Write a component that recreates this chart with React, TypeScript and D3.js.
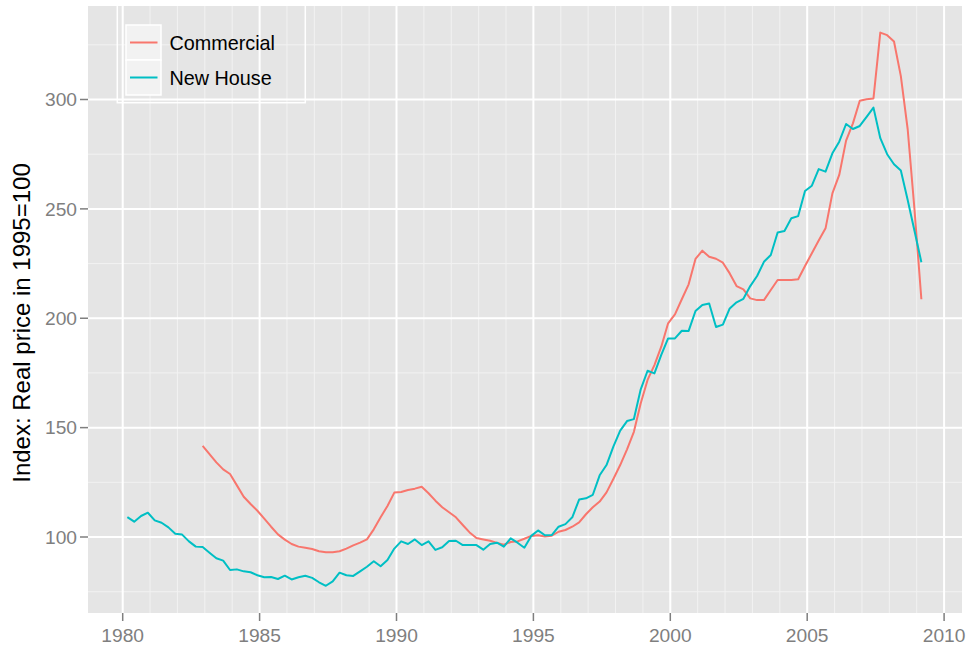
import * as d3 from 'd3';

// quarterly series, first point is early 1980
const firstDate = 1980.17;
const commercialStart = 11; // commercial index begins 11 quarters later

const newHouse = [
  109.1, 107.0, 109.6, 111.1, 107.6, 106.5, 104.4, 101.5, 101.1, 98.0,
  95.6, 95.4, 92.8, 90.3, 89.2, 84.9, 85.2, 84.3, 83.9, 82.5,
  81.6, 81.7, 80.8, 82.3, 80.6, 81.6, 82.3, 81.3, 79.3, 77.7,
  79.7, 83.7, 82.5, 82.2, 84.3, 86.4, 88.9, 86.6, 89.5, 94.7,
  98.0, 96.8, 98.9, 96.3, 98.0, 94.1, 95.3, 98.2, 98.3, 96.3,
  96.3, 96.3, 94.2, 96.8, 97.4, 95.6, 99.4, 97.4, 95.1, 100.5,
  103.0, 100.8, 100.9, 104.7, 105.9, 109.0, 117.1, 117.7, 119.3, 128.2,
  132.9, 141.3, 148.6, 153.0, 153.9, 167.5, 176.0, 174.8, 183.3, 190.8,
  190.8, 194.3, 194.2, 203.3, 206.1, 206.7, 196.0, 197.1, 204.5, 207.3,
  208.9, 214.7, 219.3, 225.8, 228.9, 239.2, 239.9, 245.7, 246.7, 258.2,
  260.6, 268.2, 267.0, 275.4, 280.7, 288.8, 286.5, 287.9, 292.1, 296.3,
  282.3, 275.0, 270.4, 267.5, 254.1, 239.9, 225.6,
];

const commercial = [
  141.7, 137.9, 134.1, 130.9, 128.8, 123.6, 118.4, 115.1, 112.0,
  108.4, 104.7, 101.2, 98.8, 96.8, 95.6, 95.1, 94.5, 93.5, 93.0,
  93.0, 93.5, 94.7, 96.2, 97.4, 98.9, 103.5, 109.0, 114.2, 120.3,
  120.6, 121.5, 122.1, 123.0, 120.0, 116.6, 113.6, 111.3, 109.0, 105.5,
  102.1, 99.5, 98.9, 98.3, 97.3, 96.5, 97.7, 98.0, 99.2, 100.5,
  100.8, 100.2, 100.6, 102.4, 103.2, 104.7, 106.7, 110.4, 113.6, 116.2,
  120.4, 126.5, 132.9, 140.1, 148.1, 161.1, 171.8, 178.6, 187.0, 197.7,
  201.8, 208.7, 215.5, 227.1, 230.9, 228.1, 227.2, 225.4, 220.5, 214.7,
  213.2, 209.1, 208.3, 208.3, 212.9, 217.5, 217.5, 217.5, 217.8, 223.9,
  229.7, 235.5, 241.1, 257.1, 265.5, 281.2, 289.1, 299.4, 300.1, 300.5,
  330.6, 329.4, 326.5, 310.7, 286.4, 249.5, 208.7,
];

const xTicks = [1980, 1985, 1990, 1995, 2000, 2005, 2010];
const xMinor = d3.range(1980, 2011);
const yTicks = [100, 150, 200, 250, 300];
const yMinor = [75, 125, 175, 225, 275, 325];

const seriesNames = ['Commercial', 'New House'];
const seriesColors = ['#F8766D', '#00BFC4'];

const W = 968;
const H = 646;
const panel = { left: 88, right: 962, top: 6, bottom: 613 };
const font = '"Liberation Sans", Arial, Helvetica, sans-serif';

export default function App() {
  const x = d3.scaleLinear().domain([1980, 2010]).range([122.7, 944.1]);
  const y = d3.scaleLinear().domain([100, 300]).range([537, 99.5]);

  const nhData = newHouse.map((v, i) => ({ t: firstDate + i / 4, v }));
  const comData = commercial.map((v, i) => ({ t: firstDate + (i + commercialStart) / 4, v }));

  const line = d3
    .line<{ t: number; v: number }>()
    .x(d => x(d.t))
    .y(d => y(d.v));

  const pw = panel.right - panel.left;
  const ph = panel.bottom - panel.top;

  return (
    <svg width={W} height={H} style={{ position: 'absolute', left: 0, top: 0, background: '#fff' }}>
      <defs>
        <clipPath id="panel-clip">
          <rect x={panel.left} y={panel.top} width={pw} height={ph} />
        </clipPath>
      </defs>
      <rect x={panel.left} y={panel.top} width={pw} height={ph} fill="#E5E5E5" />
      <g clipPath="url(#panel-clip)">
        {xMinor.map(d => (
          <line key={'xm' + d} x1={x(d)} x2={x(d)} y1={panel.top} y2={panel.bottom} stroke="#F2F2F2" strokeWidth={1} />
        ))}
        {yMinor.map(d => (
          <line key={'ym' + d} x1={panel.left} x2={panel.right} y1={y(d)} y2={y(d)} stroke="#F2F2F2" strokeWidth={1} />
        ))}
        {xTicks.map(d => (
          <line key={'xM' + d} x1={x(d)} x2={x(d)} y1={panel.top} y2={panel.bottom} stroke="#fff" strokeWidth={2} />
        ))}
        {yTicks.map(d => (
          <line key={'yM' + d} x1={panel.left} x2={panel.right} y1={y(d)} y2={y(d)} stroke="#fff" strokeWidth={2} />
        ))}

        <path d={line(comData) || ''} fill="none" stroke={seriesColors[0]} strokeWidth={2} strokeLinejoin="round" />
        <path d={line(nhData) || ''} fill="none" stroke={seriesColors[1]} strokeWidth={2} strokeLinejoin="round" />

        {/* legend */}
        <rect x={117.3} y={2} width={188} height={100.7} fill="none" stroke="#fff" strokeWidth={1.5} />
        {seriesNames.map((name, i) => {
          const top = 25 + i * 35;
          return (
            <g key={name}>
              <rect x={126} y={top} width={35} height={35} fill="#F2F2F2" stroke="#fff" strokeWidth={1.5} />
              <line x1={130} x2={157.5} y1={top + 17.5} y2={top + 17.5} stroke={seriesColors[i]} strokeWidth={2} />
              <text x={169.5} y={top + 24.8} fontFamily={font} fontSize={19.8} fill="#000">
                {name}
              </text>
            </g>
          );
        })}
      </g>

      {/* axes */}
      {xTicks.map(d => (
        <g key={'xt' + d}>
          <line x1={x(d)} x2={x(d)} y1={panel.bottom} y2={panel.bottom + 8} stroke="#7F7F7F" strokeWidth={1.5} />
          <text x={x(d)} y={642} textAnchor="middle" fontFamily={font} fontSize={19.2} fill="#7F7F7F">
            {d}
          </text>
        </g>
      ))}
      {yTicks.map(d => (
        <g key={'yt' + d}>
          <line x1={panel.left - 8} x2={panel.left} y1={y(d)} y2={y(d)} stroke="#7F7F7F" strokeWidth={1.5} />
          <text x={77} y={y(d) + 6.8} textAnchor="end" fontFamily={font} fontSize={19.2} fill="#7F7F7F">
            {d}
          </text>
        </g>
      ))}
      <text
        transform={`translate(30, 323) rotate(-90)`}
        textAnchor="middle"
        fontFamily={font}
        fontSize={24}
        fill="#000"
      >
        Index: Real price in 1995=100
      </text>
    </svg>
  );
}
